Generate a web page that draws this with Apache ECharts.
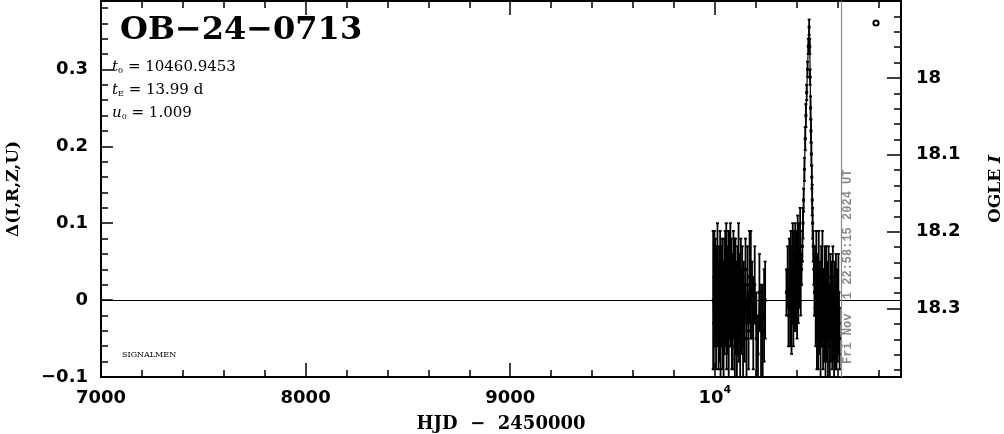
<!DOCTYPE html>
<html>
<head>
<meta charset="utf-8">
<script src="https://cdn.jsdelivr.net/npm/echarts@6.0.0/dist/echarts.min.js"></script>
<style>
html,body{margin:0;padding:0;background:#ffffff;}
#chart{width:1004px;height:434px;}
</style>
</head>
<body>
<div id="chart"></div>
<script>
// ---- photometry: [HJD-2450000, delta mag, error] ----
const season2023 = [
  [9992,0.00,0.09],[9995,-0.03,0.06],[9998,0.05,0.04],[10001,-0.01,0.05],[10003,0.04,0.04],
  [10006,-0.04,0.05],[10008,0.03,0.04],[10011,-0.02,0.04],[10013,0.06,0.04],[10016,0.00,0.05],
  [10018,-0.05,0.04],[10021,0.03,0.04],[10023,-0.03,0.05],[10026,0.05,0.04],[10028,-0.06,0.04],
  [10031,0.02,0.05],[10033,-0.02,0.04],[10036,0.04,0.04],[10038,-0.04,0.05],[10041,0.01,0.04],
  [10043,-0.07,0.04],[10046,0.03,0.05],[10048,-0.03,0.04],[10051,0.05,0.04],[10053,-0.01,0.05],
  [10056,0.06,0.04],[10058,-0.05,0.04],[10061,0.02,0.05],[10063,-0.03,0.04],[10066,0.04,0.05],
  [10068,-0.06,0.04],[10071,0.05,0.04],[10073,0.00,0.05],[10076,0.06,0.04],[10078,-0.02,0.04],
  [10081,0.03,0.05],[10083,-0.05,0.04],[10086,0.02,0.04],[10088,-0.04,0.05],[10091,0.05,0.04],
  [10093,-0.01,0.04],[10096,0.03,0.05],[10098,-0.06,0.04],[10101,0.04,0.04],[10103,-0.02,0.05],
  [10106,0.01,0.04],[10108,-0.07,0.05],[10111,0.03,0.04],[10113,-0.03,0.04],[10116,0.05,0.05],
  [10118,-0.04,0.04],[10121,0.02,0.04],[10124,-0.05,0.05],[10127,0.04,0.04],[10130,-0.02,0.05],
  [10134,0.03,0.04],[10138,-0.06,0.05],[10142,0.01,0.04],[10146,-0.03,0.05],[10150,0.04,0.04],
  [10155,-0.05,0.05],[10160,0.02,0.05],[10165,-0.04,0.05],[10170,0.03,0.06],[10176,0.02,0.07],
  [10182,0.00,0.05],[10188,-0.03,0.06],[10195,0.02,0.05],[10203,-0.05,0.06],[10211,-0.07,0.05],
  [10218,0.01,0.05],[10226,-0.04,0.06],[10234,-0.04,0.06],[10241,-0.02,0.06],[10246,0.00,0.05]
];
const season2024Rise = [
  [10350,0.01,0.03],[10356,0.03,0.04],[10360,-0.02,0.04],[10364,0.04,0.04],[10368,-0.01,0.05],
  [10372,0.05,0.04],[10375,-0.03,0.04],[10378,0.02,0.05],[10381,0.06,0.04],[10384,-0.02,0.04],
  [10387,0.04,0.05],[10390,0.00,0.04],[10393,0.06,0.04],[10396,0.01,0.05],[10399,0.05,0.04],
  [10402,-0.01,0.04],[10405,0.07,0.04],[10408,0.02,0.05],[10411,0.06,0.04],[10414,0.03,0.04],
  [10417,0.07,0.05],[10420,0.02,0.04]
];
const season2024Peak = [
  [10424,0.04,0.02],[10428,0.07,0.02],[10431,0.10,0.02],[10434,0.13,0.015],[10438,0.17,0.015],
  [10442,0.21,0.015],[10445,0.24,0.015],[10449,0.27,0.01],[10453,0.30,0.01],[10457,0.33,0.01],
  [10461,0.355,0.01],[10464,0.33,0.01],[10466,0.29,0.01],[10468,0.25,0.015],[10470,0.22,0.015],
  [10472,0.19,0.015],[10474,0.16,0.015],[10476,0.13,0.02],[10478,0.10,0.02],[10481,0.07,0.02],
  [10484,0.04,0.02],[10487,0.01,0.03]
];
const season2024Decline = [
  [10490,0.03,0.04],[10493,-0.02,0.04],[10496,0.05,0.04],[10499,-0.04,0.05],[10502,0.02,0.04],
  [10505,-0.05,0.04],[10508,0.04,0.05],[10511,-0.03,0.04],[10514,0.01,0.04],[10517,-0.06,0.05],
  [10520,0.03,0.04],[10523,-0.02,0.04],[10526,0.04,0.05],[10529,-0.05,0.04],[10532,0.00,0.04],
  [10535,-0.03,0.05],[10538,0.03,0.04],[10541,-0.06,0.04],[10544,0.02,0.05],[10547,-0.04,0.04],
  [10550,0.01,0.04],[10553,-0.05,0.05],[10556,0.03,0.04],[10559,-0.02,0.04],[10562,-0.06,0.05],
  [10565,0.02,0.04],[10568,-0.04,0.04],[10571,0.00,0.05],[10574,-0.05,0.04],[10577,0.03,0.04],
  [10580,-0.03,0.05],[10583,-0.06,0.04],[10586,0.01,0.04],[10589,-0.04,0.05],[10592,0.02,0.04],
  [10595,-0.05,0.04],[10598,-0.01,0.05],[10601,-0.04,0.04],[10604,0.01,0.05],[10607,-0.03,0.04],
  [10610,-0.05,0.04]
];

// ---- axes ----
const xRange = [7000, 10910];
const deltaRange = [-0.1, 0.389];
const magRange = [17.9, 18.389];
const xMajorTicks = [7000, 8000, 9000, 10000];
const xMinorTicks = [7200,7400,7600,7800,8200,8400,8600,8800,9200,9400,9600,9800,10200,10400,10600,10800];
const yMajorTicks = [-0.1, 0, 0.1, 0.2, 0.3];
const yMinorTicks = [-0.08,-0.06,-0.04,-0.02,0.02,0.04,0.06,0.08,0.12,0.14,0.16,0.18,0.22,0.24,0.26,0.28,0.32,0.34,0.36,0.38];
const magMajorTicks = [18, 18.1, 18.2, 18.3];
const magMinorTicks = [17.92,17.94,17.96,17.98,18.02,18.04,18.06,18.08,18.12,18.14,18.16,18.18,18.22,18.24,18.26,18.28,18.32,18.34,18.36,18.38];

// ---- annotations ----
const eventName = 'OB\u221224\u22120713';
const fitParams = [['t', '0', '10460.9453'], ['t', 'E', '13.99 d'], ['u', '0', '1.009']];
const dateLineHJD = 10617.457;
const dateLabel = 'Fri Nov  1 22:58:15 2024 UT';
const xName = 'HJD  \u2212  2450000';
const yLeftName = '\u0394(I,R,Z,U)';
const yRightName = ['OGLE ', 'I'];
const footNote = 'SIGNALMEN';

const season2024 = [].concat(season2024Rise, season2024Peak, season2024Decline);
const photometry = [].concat(season2023, season2024);

const BLACK = '#000';
const tickFont = {color: BLACK, fontSize: 18, fontWeight: 'bold', fontFamily: 'DejaVu Sans'};
const nameFont = {color: BLACK, fontSize: 18, fontWeight: 'bold', fontFamily: 'DejaVu Serif'};

function ghostAxis(pos, range, ticks, len, inverse) {
  return {
    type: 'value', position: pos, min: range[0], max: range[1], inverse: !!inverse,
    axisLine: {show: false, onZero: false},
    axisLabel: {show: false},
    splitLine: {show: false},
    axisTick: {show: true, inside: true, length: len, customValues: ticks, lineStyle: {color: BLACK, width: 1.5}}
  };
}
function mainAxis(pos, range, ticks, len, labelValues, formatter, extra) {
  return Object.assign({
    type: 'value', position: pos, min: range[0], max: range[1],
    axisLine: {show: true, onZero: false, lineStyle: {color: BLACK, width: 2}},
    splitLine: {show: false},
    axisTick: {show: true, inside: true, length: len, customValues: ticks, lineStyle: {color: BLACK, width: 1.5}},
    axisLabel: labelValues ? Object.assign({show: true, customValues: labelValues, formatter: formatter}, tickFont) : {show: false}
  }, extra || {});
}

const xFmt = v => v === 10000 ? '{b|10}{sup|4}' : '{b|' + v + '}';
const yFmt = v => Math.abs(v) < 1e-9 ? '0' : (v < 0 ? '\u2212' + (-v).toFixed(1) : v.toFixed(1));
const magFmt = v => String(Number(v.toFixed(2)));

const xMain = mainAxis('bottom', xRange, xMajorTicks, 14, xMajorTicks, xFmt, {
  name: xName, nameLocation: 'middle', nameGap: 38, nameTextStyle: nameFont
});
xMain.axisLabel.margin = 8;
xMain.axisLabel.rich = {
  b: {fontSize: 18, fontWeight: 'bold', fontFamily: 'DejaVu Sans', color: BLACK, lineHeight: 22, verticalAlign: 'bottom'},
  sup: {fontSize: 11, fontWeight: 'bold', fontFamily: 'DejaVu Sans', color: BLACK, lineHeight: 12, verticalAlign: 'top'}
};

const yMain = mainAxis('left', deltaRange, yMajorTicks, 12, yMajorTicks, yFmt, {
  name: yLeftName, nameLocation: 'middle', nameGap: 79, nameRotate: 90,
  nameTextStyle: Object.assign({}, nameFont, {fontSize: 17})
});
yMain.axisLabel.margin = 13;

const magMain = mainAxis('right', magRange, [17.9].concat(magMajorTicks), 14, magMajorTicks, magFmt, {
  inverse: true,
  name: '{n|' + yRightName[0] + '}{i|' + yRightName[1] + '}', nameLocation: 'middle', nameGap: 86, nameRotate: 90,
  nameTextStyle: {rich: {
    n: Object.assign({}, nameFont, {fontSize: 17}),
    i: Object.assign({}, nameFont, {fontSize: 17, fontStyle: 'italic'})
  }}
});
magMain.axisLabel.margin = 15;

const xTop = mainAxis('top', xRange, xMajorTicks, 14, null, null);

function renderErr(params, api) {
  const t = api.value(0), d = api.value(1), e = api.value(2);
  const hi = api.coord([t, d + e]);
  const lo = api.coord([t, d - e]);
  const x = hi[0], cap = 1.5;
  const st = {stroke: BLACK, lineWidth: 1.8};
  return {type: 'group', children: [
    {type: 'line', shape: {x1: x, y1: hi[1], x2: x, y2: lo[1]}, style: st},
    {type: 'line', shape: {x1: x - cap, y1: hi[1], x2: x + cap, y2: hi[1]}, style: st},
    {type: 'line', shape: {x1: x - cap, y1: lo[1], x2: x + cap, y2: lo[1]}, style: st}
  ]};
}

function lineSeries(name, rows, extra) {
  return Object.assign({
    type: 'line', name: name, xAxisIndex: 0, yAxisIndex: 0, clip: true,
    data: rows.map(r => [r[0], r[1]]),
    symbol: 'rect', symbolSize: 3, showSymbol: true,
    lineStyle: {color: BLACK, width: 1.2}, itemStyle: {color: BLACK}, z: 3, silent: true
  }, extra || {});
}

const chart = echarts.init(document.getElementById('chart'), null, {renderer: 'canvas'});
chart.setOption({
  animation: false,
  backgroundColor: '#fff',
  grid: {left: 101, right: 103, top: 1, bottom: 57, containLabel: false, outerBoundsMode: 'none'},
  xAxis: [
    xMain,
    ghostAxis('bottom', xRange, xMinorTicks, 7),
    xTop,
    ghostAxis('top', xRange, xMinorTicks, 7)
  ],
  yAxis: [
    yMain,
    ghostAxis('left', deltaRange, yMinorTicks, 7),
    magMain,
    ghostAxis('right', magRange, magMinorTicks, 7, true)
  ],
  series: [
    {
      type: 'custom', name: 'errors', xAxisIndex: 0, yAxisIndex: 0, clip: true,
      renderItem: renderErr, data: photometry, encode: {x: 0, y: 1}, z: 2, silent: true
    },
    lineSeries('OGLE 2023', season2023, {
      markLine: {
        silent: true, symbol: 'none', animation: false, label: {show: false},
        data: [
          {yAxis: 0, lineStyle: {color: BLACK, width: 1, type: 'solid'}},
          {xAxis: dateLineHJD, lineStyle: {color: '#8c8c8c', width: 1.2, type: 'solid'}}
        ]
      }
    }),
    lineSeries('OGLE 2024', season2024)
  ]
});

const lineX = chart.convertToPixel({xAxisIndex: 0}, dateLineHJD);
const paramText = fitParams.map(p => '{i|' + p[0] + '}{s|' + p[1] + '}{n| = ' + p[2] + '}').join('\n');
chart.setOption({
  graphic: [
    {type: 'text', x: 120, y: 31, z: 10, style: {
      text: eventName, fill: BLACK, font: 'bold 32px "DejaVu Serif"', textVerticalAlign: 'middle'}},
    {type: 'text', x: 112, y: 52, z: 10, style: {
      text: paramText, fill: BLACK,
      rich: {
        i: {fontFamily: 'DejaVu Serif', fontStyle: 'italic', fontSize: 15, lineHeight: 23, verticalAlign: 'bottom'},
        s: {fontFamily: 'DejaVu Serif', fontSize: 8, lineHeight: 14, verticalAlign: 'bottom'},
        n: {fontFamily: 'DejaVu Serif', fontSize: 15, lineHeight: 23, verticalAlign: 'bottom'}
      }}},
    {type: 'text', x: 122, y: 355, z: 10, style: {
      text: footNote, fill: BLACK, font: '8px "DejaVu Serif"', textVerticalAlign: 'middle'}},
    {type: 'text', x: lineX + 7, y: 364, rotation: Math.PI / 2, z: 10, style: {
      text: dateLabel, fill: '#8a8a8a', font: 'bold 12px "Liberation Mono"', textAlign: 'left', textVerticalAlign: 'middle'}},
    {type: 'circle', x: 876, y: 23, z: 10, shape: {r: 2.6}, style: {fill: '#fff', stroke: BLACK, lineWidth: 2}}
  ]
});
</script>
</body>
</html>
